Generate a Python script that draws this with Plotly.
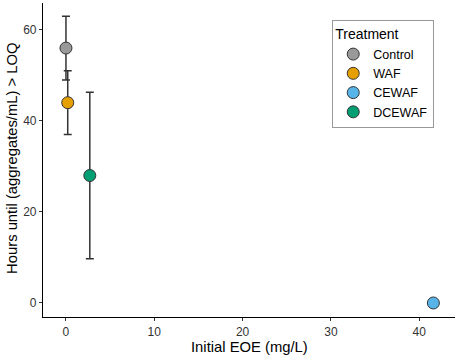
import plotly.graph_objects as go

treatments = ["Control", "WAF", "CEWAF", "DCEWAF"]
eoe = [0.0, 0.2, 41.6, 2.7]
hours = [56.0, 44.0, 0.0, 28.0]
err = [7.0, 7.0, 0.0, 18.3]
colors = ["#999999", "#E69F00", "#56B4E9", "#009E73"]

x_ticks = [0, 10, 20, 30, 40]
y_ticks = [0, 20, 40, 60]

fig = go.Figure()
# error bars
for t, x, y, e in zip(treatments, eoe, hours, err):
    if e > 0:
        fig.add_trace(go.Scatter(
            x=[x], y=[y], mode="markers",
            marker=dict(size=0.1, color="rgba(0,0,0,0)"),
            error_y=dict(type="data", array=[e], visible=True, color="#333333",
                         thickness=1.5, width=4),
            showlegend=False, hoverinfo="skip"))
for t, x, y, c in zip(treatments, eoe, hours, colors):
    fig.add_trace(go.Scatter(
        x=[x], y=[y], mode="markers", name=t,
        marker=dict(size=12, color=c, line=dict(color="#333333", width=1))))

fig.update_layout(
    width=459, height=358,
    margin=dict(l=43, r=4, t=3, b=41),
    paper_bgcolor="white", plot_bgcolor="white",
    font=dict(family="Liberation Sans, Arial", size=12, color="black"),
    legend=dict(
        title=dict(text="Treatment", font=dict(size=14, color="black")),
        x=0.702, y=0.945, xanchor="left", yanchor="top",
        bordercolor="#999999", borderwidth=1, bgcolor="white",
        font=dict(size=12.5, color="black"),
        tracegroupgap=0, itemwidth=30),
    showlegend=True,
    annotations=[
        dict(text="Initial EOE (mg/L)", xref="paper", yref="paper",
             x=0.5, y=-0.096, xanchor="center", yanchor="middle",
             showarrow=False, font=dict(size=14.8, color="black")),
        dict(text="Hours until (aggregates/mL) > LOQ", xref="paper", yref="paper",
             x=-0.074, y=0.505, xanchor="center", yanchor="middle", textangle=-90,
             showarrow=False, font=dict(size=14.8, color="black")),
    ],
)
fig.update_xaxes(
    range=[-2.6, 44.05], tickvals=x_ticks, showgrid=False, zeroline=False,
    showline=True, linecolor="black", linewidth=1.2, automargin=False,
    ticks="outside", ticklen=3, tickcolor="#333333",
    tickfont=dict(size=12, color="#333333"))
fig.update_yaxes(
    range=[-3.08, 65.9], tickvals=y_ticks, showgrid=False, zeroline=False,
    showline=True, linecolor="black", linewidth=1.2, automargin=False,
    ticks="outside", ticklen=3, tickcolor="#333333",
    tickfont=dict(size=12, color="#333333"))

fig.write_html("out.html", config={"displayModeBar": False},
               post_script="document.body.style.margin='0';")
